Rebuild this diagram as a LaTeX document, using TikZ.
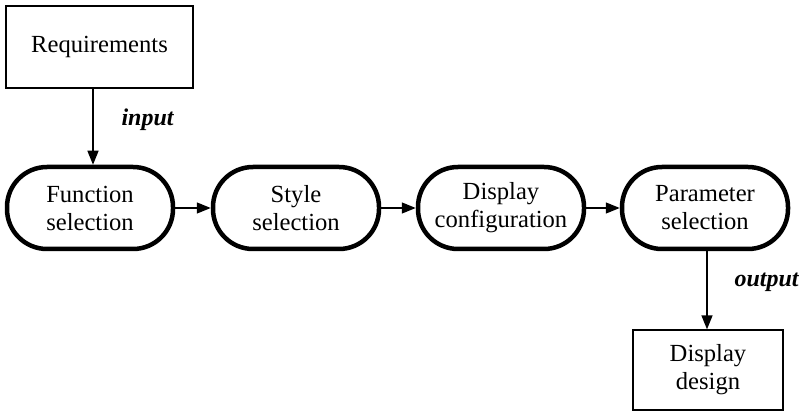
\documentclass[tikz,border=0pt]{standalone}
\usepackage{fontspec}
\setmainfont{Liberation Serif}
\usetikzlibrary{arrows.meta,calc}
\begin{document}
\begin{tikzpicture}[x=1pt,y=1pt,
  every node/.style={font=\fontsize{24.6}{28}\selectfont, align=center},
  plainbox/.style={draw, line width=1.3pt, inner sep=0pt},
  stage/.style={draw, line width=4.5pt, rounded corners=40pt, minimum width=166pt, minimum height=82pt, inner sep=0pt},
  flow/.style={line width=1.4pt, -{Triangle[length=14pt,width=11pt]}},
  tag/.style={font=\fontsize{24}{28}\selectfont\bfseries\itshape}
]
\useasboundingbox (0,0) rectangle (803,-411);
% input and output boxes
\node[plainbox, minimum width=187pt, minimum height=82pt] (req) at (99.5,-47) {Requirements};
\node[plainbox, minimum width=150pt, minimum height=80pt] (dd) at (708,-370) {Display\\design};
% processing stages
\node[stage] (fun) at (90,-208) {Function\\selection};
\node[stage] (sty) at (296,-208) {Style\\selection};
\node[stage] (cfg) at (501,-208) {Display\\configuration};
\node[stage] (par) at (705,-208) {Parameter\\selection};
% connectors
\coordinate (inx) at (93,0);
\draw[flow] (req.south -| inx) -- (fun.north -| inx);
\draw[flow] (fun) -- (sty);
\draw[flow] (sty) -- (cfg);
\draw[flow] (cfg) -- (par);
\coordinate (outx) at (707,0);
\draw[flow] (par.south -| outx) -- (dd.north -| outx);
% labels
\node[tag, anchor=west] (inlab) at (118,-120) {input};
\node[tag, anchor=west] (outlab) at (731,-282) {output};
\end{tikzpicture}
\end{document}
